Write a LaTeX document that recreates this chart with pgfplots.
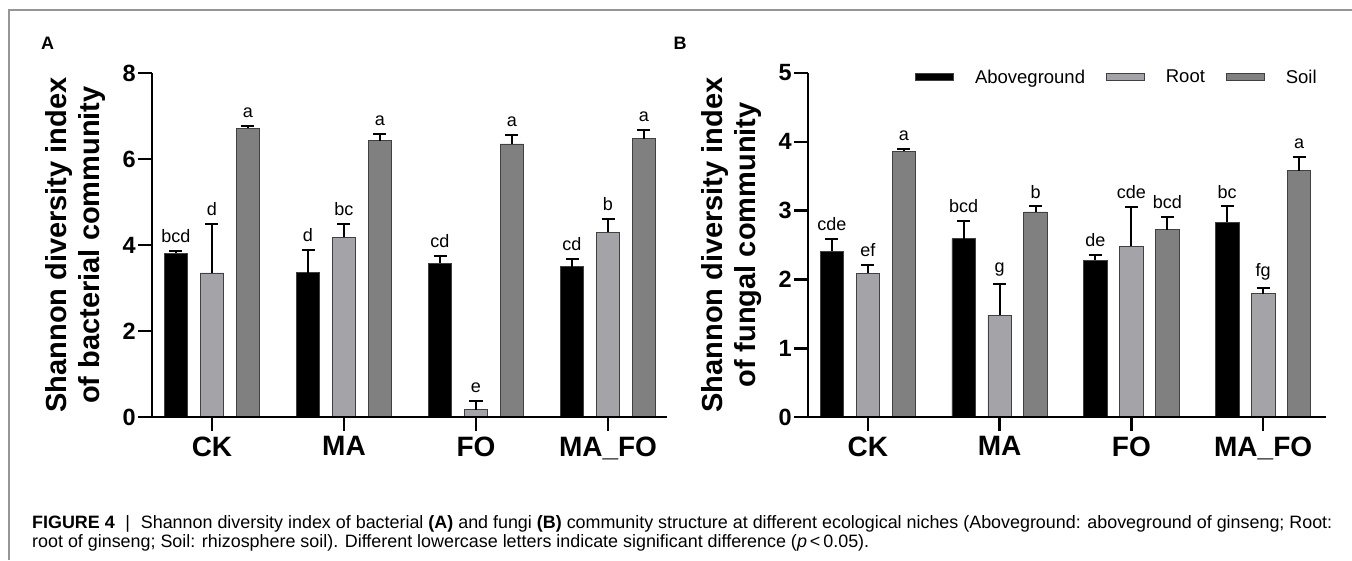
\documentclass[border=0pt]{standalone}
\usepackage{fontspec}
\setmainfont{Liberation Sans}
\usepackage{graphicx}
\usepackage{pgfplots}
\pgfplotsset{compat=1.18}
\usepackage{pgfplotstable}

\definecolor{rootc}{RGB}{164,164,168}
\definecolor{soilc}{RGB}{128,128,128}
\definecolor{framec}{RGB}{150,150,150}

% Panel A (bacteria)
\pgfplotstableread{
x y err top lab
0 3.81 0.06 3.87 bcd
1 3.36 0.52 3.88 d
2 3.57 0.17 3.74 cd
3 3.50 0.17 3.67 cd
}\Aabove
\pgfplotstableread{
x y err top lab
0 3.35 1.15 4.50 d
1 4.18 0.30 4.48 bc
2 0.17 0.20 0.37 e
3 4.30 0.30 4.60 b
}\Aroot
\pgfplotstableread{
x y err top lab
0 6.71 0.05 6.76 a
1 6.43 0.15 6.58 a
2 6.35 0.21 6.56 a
3 6.47 0.20 6.67 a
}\Asoil
% Panel B (fungi)
\pgfplotstableread{
x y err top lab
0 2.41 0.18 2.59 cde
1 2.59 0.26 2.85 bcd
2 2.28 0.08 2.36 de
3 2.83 0.23 3.06 bc
}\Babove
\pgfplotstableread{
x y err top lab
0 2.09 0.12 2.21 ef
1 1.48 0.45 1.93 g
2 2.48 0.57 3.05 cde
3 1.79 0.08 1.87 fg
}\Broot
\pgfplotstableread{
x y err top lab
0 3.86 0.04 3.90 a
1 2.98 0.08 3.06 b
2 2.72 0.19 2.91 bcd
3 3.58 0.20 3.78 a
}\Bsoil

\pgfplotsset{
  prism/.style={
    scale only axis, height=344pt,
    xmin=-0.4545, ymin=0,
    axis x line*=bottom, axis y line*=left,
    axis line style={line width=2.8pt, -},
    every inner x axis line/.append style={-},
    every outer x axis line/.append style={-},
    every inner y axis line/.append style={-},
    every outer y axis line/.append style={-},
    axis on top,
    xtick={0,1,2,3}, xticklabels={CK,MA,FO,MA\_FO},
    tick align=outside, major tick length=14pt,
    every tick/.style={black, line width=2.6pt},
    /pgf/number format/assume math mode=true,
    xticklabel style={font=\fontsize{28}{28}\selectfont\bfseries, yshift=-2pt},
    yticklabel style={font=\fontsize{23.5}{23.5}\selectfont\bfseries, inner xsep=2pt},
    ylabel style={font=\fontsize{29}{33}\selectfont\bfseries, align=center,
                  at={(axis description cs:-0.1476,0.5)}, anchor=center},
    clip=false,
  },
  pbar/.style={ybar, bar width=23.5pt, bar shift=0pt, fill=#1, draw=black!75, line width=0.8pt,
    legend image code/.code={\draw[fill=#1, draw=black!75, line width=0.8pt] (0pt,-3.5pt) rectangle (38pt,3.5pt);},
    error bars/.cd, y dir=plus, y explicit,
    error bar style={line width=2pt, black},
    error mark options={rotate=90, mark size=6.5pt, line width=2pt, black}},
  plab/.style={draw=none, mark=none, forget plot, nodes near coords, point meta=explicit symbolic,
    nodes near coords style={anchor=south, inner sep=0pt, yshift=8pt,
      font=\fontsize{18}{18}\selectfont, text=black}},
}

\begin{document}
\begin{tikzpicture}[x=1pt,y=1pt]
\path[use as bounding box, fill=white] (0,0) rectangle (1352,560);
\draw[framec, line width=1.5pt] (9,0) -- (9,550) -- (1352,550);

\node[font=\fontsize{18}{18}\selectfont\bfseries] at (47.5,516.5) {A};
\node[font=\fontsize{18}{18}\selectfont\bfseries] at (680,516.5) {B};

% ---------- Panel A ----------
\begin{axis}[prism, at={(152pt,143pt)}, anchor=south west,
  width=515pt, xmax=3.447, ymax=8, ytick={0,2,4,6,8},
  ylabel={Shannon diversity index\\of bacterial community}]
\addplot[pbar=black] table[x expr=\thisrow{x}-0.2727, y=y, y error=err] {\Aabove};
\addplot[pbar=rootc] table[x expr=\thisrow{x}, y=y, y error=err] {\Aroot};
\addplot[pbar=soilc] table[x expr=\thisrow{x}+0.2727, y=y, y error=err] {\Asoil};
\addplot[plab] table[x expr=\thisrow{x}-0.2727, y=top, meta=lab] {\Aabove};
\addplot[plab] table[x expr=\thisrow{x}, y=top, meta=lab] {\Aroot};
\addplot[plab] table[x expr=\thisrow{x}+0.2727, y=top, meta=lab] {\Asoil};
\end{axis}

% ---------- Panel B ----------
\begin{axis}[prism, at={(808pt,143pt)}, anchor=south west,
  width=518pt, xmax=3.477, ymax=5, ytick={0,1,2,3,4,5},
  ylabel={Shannon diversity index\\of fungal community},
  legend columns=3,
  legend style={at={(rel axis cs:0.2066,0.988)}, anchor=west, draw=none, fill=none,
    inner sep=0pt, font=\fontsize{18.5}{18.5}\selectfont,
    nodes={inner sep=0pt},
    /tikz/every odd column/.append style={column sep=21pt},
    /tikz/every even column/.append style={column sep=21pt}},
  legend cell align=left]
\addplot[pbar=black] table[x expr=\thisrow{x}-0.2727, y=y, y error=err] {\Babove};
\addlegendentry{Aboveground}
\addplot[pbar=rootc] table[x expr=\thisrow{x}, y=y, y error=err] {\Broot};
\addlegendentry{Root}
\addplot[pbar=soilc] table[x expr=\thisrow{x}+0.2727, y=y, y error=err] {\Bsoil};
\addlegendentry{Soil}
\addplot[plab] table[x expr=\thisrow{x}-0.2727, y=top, meta=lab] {\Babove};
\addplot[plab] table[x expr=\thisrow{x}, y=top, meta=lab] {\Broot};
\addplot[plab] table[x expr=\thisrow{x}+0.2727, y=top, meta=lab] {\Bsoil};
\end{axis}

% ---------- Caption ----------
\node[anchor=base west, inner sep=0pt] at (32,32) {\resizebox{1300pt}{!}{\fontsize{15.6}{16.8}\selectfont
\begin{tabular}[t]{@{}l@{}}
\textbf{FIGURE 4}\hspace{0.6em}|\hspace{0.6em}Shannon diversity index of bacterial \textbf{(A)} and fungi \textbf{(B)} community structure at different ecological niches (Aboveground: aboveground of ginseng; Root:\\
root of ginseng; Soil: rhizosphere soil). Different lowercase letters indicate significant difference (\textit{p}\,<\,0.05).
\end{tabular}}};
\end{tikzpicture}
\end{document}
